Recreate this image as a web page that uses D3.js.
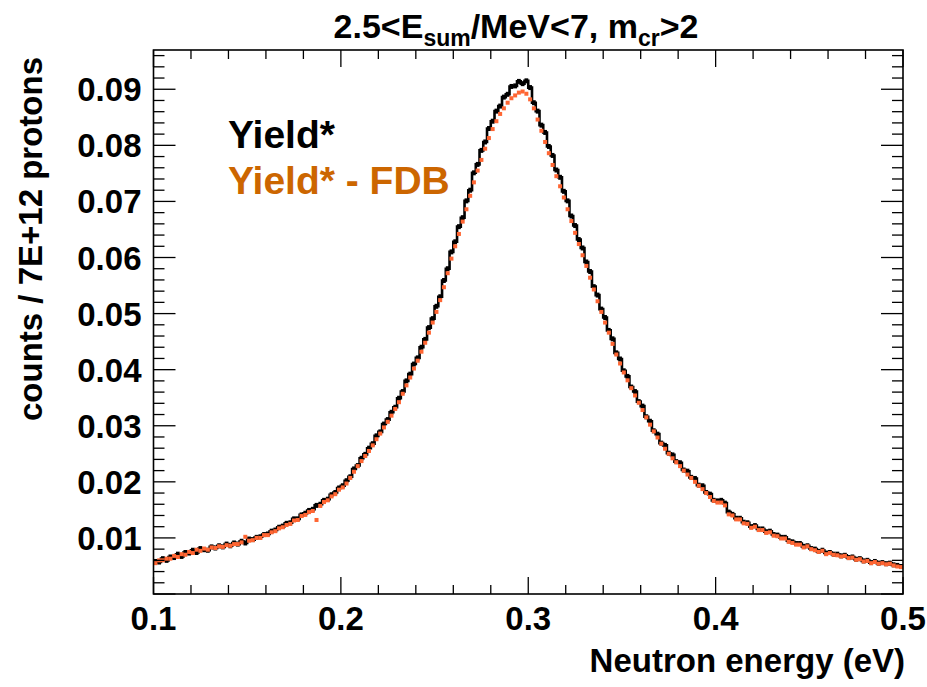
<!DOCTYPE html>
<html>
<head>
<meta charset="utf-8">
<script src="https://cdn.jsdelivr.net/npm/d3@7"></script>
<style>
  body { margin: 0; background: #fff; }
  text { font-family: "Liberation Sans", Arial, Helvetica, sans-serif; font-weight: bold; }
</style>
</head>
<body>
<div id="my_dataviz"></div>
<script>
// histogram binning (neutron energy, eV)
var energyMin = 0.1, energyMax = 0.5, binWidth = 0.002

// Yield* (black), one value per bin, 0.101 ... 0.499
var yieldStar = [
  0.0058, 0.0057, 0.0063, 0.0060, 0.0066, 0.0065, 0.0071, 0.0067, 0.0074, 0.0073,
  0.0078, 0.0074, 0.0081, 0.0079, 0.0078, 0.0084, 0.0082, 0.0086, 0.0084, 0.0089,
  0.0086, 0.0091, 0.0089, 0.0094, 0.0091, 0.0098, 0.0097, 0.0101, 0.0102, 0.0106,
  0.0107, 0.0112, 0.0114, 0.0119, 0.0121, 0.0126, 0.0127, 0.0134, 0.0134, 0.0141,
  0.0144, 0.0149, 0.0151, 0.0158, 0.0160, 0.0167, 0.0169, 0.0177, 0.0181, 0.0189,
  0.0193, 0.0202, 0.0209, 0.0223, 0.0229, 0.0242, 0.0249, 0.0260, 0.0268, 0.0282,
  0.0289, 0.0303, 0.0311, 0.0324, 0.0333, 0.0349, 0.0361, 0.0380, 0.0392, 0.0410,
  0.0421, 0.0440, 0.0454, 0.0475, 0.0491, 0.0513, 0.0530, 0.0559, 0.0580, 0.0610,
  0.0628, 0.0655, 0.0671, 0.0701, 0.0720, 0.0751, 0.0766, 0.0791, 0.0806, 0.0830,
  0.0843, 0.0861, 0.0870, 0.0886, 0.0891, 0.0905, 0.0906, 0.0914, 0.0910, 0.0915,
  0.0903, 0.0876, 0.0861, 0.0836, 0.0823, 0.0798, 0.0782, 0.0756, 0.0743, 0.0718,
  0.0701, 0.0674, 0.0657, 0.0632, 0.0617, 0.0592, 0.0575, 0.0548, 0.0533, 0.0508,
  0.0493, 0.0470, 0.0455, 0.0430, 0.0419, 0.0398, 0.0388, 0.0369, 0.0361, 0.0343,
  0.0335, 0.0316, 0.0308, 0.0291, 0.0285, 0.0269, 0.0265, 0.0251, 0.0248, 0.0236,
  0.0234, 0.0221, 0.0219, 0.0208, 0.0206, 0.0194, 0.0193, 0.0181, 0.0178, 0.0167,
  0.0166, 0.0167, 0.0162, 0.0146, 0.0142, 0.0135, 0.0135, 0.0128, 0.0127, 0.0120,
  0.0122, 0.0116, 0.0116, 0.0111, 0.0112, 0.0106, 0.0105, 0.0101, 0.0101, 0.0095,
  0.0093, 0.0090, 0.0090, 0.0085, 0.0086, 0.0081, 0.0080, 0.0076, 0.0078, 0.0073,
  0.0074, 0.0071, 0.0071, 0.0068, 0.0069, 0.0065, 0.0066, 0.0062, 0.0063, 0.0059,
  0.0060, 0.0056, 0.0058, 0.0055, 0.0056, 0.0054, 0.0055, 0.0052, 0.0051, 0.0049
]

// Yield* - FDB (orange)
var yieldFdb = [
  0.0055, 0.0060, 0.0060, 0.0063, 0.0063, 0.0068, 0.0066, 0.0071, 0.0070, 0.0075,
  0.0073, 0.0079, 0.0077, 0.0081, 0.0079, 0.0083, 0.0082, 0.0085, 0.0084, 0.0087,
  0.0086, 0.0089, 0.0089, 0.0092, 0.0102, 0.0095, 0.0096, 0.0100, 0.0100, 0.0105,
  0.0105, 0.0110, 0.0112, 0.0117, 0.0119, 0.0123, 0.0125, 0.0131, 0.0132, 0.0139,
  0.0141, 0.0146, 0.0148, 0.0132, 0.0157, 0.0164, 0.0167, 0.0174, 0.0178, 0.0186,
  0.0190, 0.0197, 0.0207, 0.0218, 0.0228, 0.0237, 0.0246, 0.0255, 0.0265, 0.0276,
  0.0286, 0.0297, 0.0307, 0.0318, 0.0330, 0.0342, 0.0357, 0.0372, 0.0386, 0.0402,
  0.0416, 0.0432, 0.0448, 0.0466, 0.0484, 0.0503, 0.0524, 0.0547, 0.0572, 0.0598,
  0.0620, 0.0642, 0.0664, 0.0686, 0.0710, 0.0734, 0.0755, 0.0774, 0.0794, 0.0813,
  0.0829, 0.0843, 0.0856, 0.0866, 0.0876, 0.0884, 0.0889, 0.0894, 0.0896, 0.0892,
  0.0882, 0.0866, 0.0846, 0.0826, 0.0806, 0.0786, 0.0765, 0.0745, 0.0727, 0.0707,
  0.0686, 0.0665, 0.0644, 0.0624, 0.0604, 0.0585, 0.0564, 0.0543, 0.0522, 0.0503,
  0.0484, 0.0466, 0.0446, 0.0427, 0.0411, 0.0395, 0.0381, 0.0367, 0.0354, 0.0341,
  0.0328, 0.0315, 0.0302, 0.0290, 0.0279, 0.0268, 0.0259, 0.0250, 0.0242, 0.0235,
  0.0228, 0.0220, 0.0213, 0.0207, 0.0200, 0.0193, 0.0187, 0.0180, 0.0173, 0.0166,
  0.0163, 0.0163, 0.0158, 0.0142, 0.0140, 0.0133, 0.0133, 0.0126, 0.0125, 0.0118,
  0.0120, 0.0114, 0.0114, 0.0109, 0.0110, 0.0104, 0.0103, 0.0099, 0.0099, 0.0093,
  0.0091, 0.0088, 0.0088, 0.0083, 0.0085, 0.0080, 0.0078, 0.0075, 0.0077, 0.0071,
  0.0073, 0.0070, 0.0069, 0.0067, 0.0068, 0.0064, 0.0065, 0.0061, 0.0062, 0.0058,
  0.0059, 0.0055, 0.0057, 0.0054, 0.0055, 0.0053, 0.0054, 0.0051, 0.0049, 0.0048
]

var xTicks = [0.1, 0.2, 0.3, 0.4, 0.5]
var yTicks = [0.01, 0.02, 0.03, 0.04, 0.05, 0.06, 0.07, 0.08, 0.09]
var yMax = 0.097

var legendLabels = ["Yield*", "Yield* - FDB"]
var legendColors = ["#000000", "#cc6600"]

// set the dimensions and margins of the graph
var W = 927, H = 687
var margin = {top: 50, right: 24, bottom: 93, left: 153.5},
    width = W - margin.left - margin.right,
    height = H - margin.top - margin.bottom

var svg = d3.select("#my_dataviz")
  .append("svg")
  .attr("width", W)
  .attr("height", H)

var g = svg.append("g")
  .attr("transform", "translate(" + margin.left + "," + margin.top + ")")

var x = d3.scaleLinear().domain([energyMin, energyMax]).range([0, width])
var y = d3.scaleLinear().domain([0, yMax]).range([height, 0])

// bins
var binLo = yieldStar.map(function(d, i) { return energyMin + i * binWidth })
var binPx = x(energyMin + binWidth) - x(energyMin)

// Yield* as a thick step histogram
var stepPts = []
yieldStar.forEach(function(v, i) {
  stepPts.push([binLo[i], v])
  stepPts.push([binLo[i] + binWidth, v])
})
g.append("path")
  .datum(stepPts)
  .attr("fill", "none")
  .attr("stroke", "#000")
  .attr("stroke-width", 2.6)
  .attr("d", d3.line().x(function(d) { return x(d[0]) }).y(function(d) { return y(d[1]) }))

g.selectAll("rect.blk")
  .data(yieldStar)
  .enter()
  .append("rect")
  .attr("class", "blk")
  .attr("x", function(d, i) { return x(binLo[i]) })
  .attr("y", function(d) { return y(d) - 2.5 })
  .attr("width", binPx)
  .attr("height", 5)
  .attr("fill", "#000")

// Yield* - FDB as small orange markers
g.selectAll("rect.fdb")
  .data(yieldFdb)
  .enter()
  .append("rect")
  .attr("class", "fdb")
  .attr("x", function(d, i) { return x(binLo[i] + binWidth / 2) - 2 })
  .attr("y", function(d) { return y(d) - 2 })
  .attr("width", 4)
  .attr("height", 4)
  .attr("fill", "#ff6633")

// ticks on all four sides, ROOT style
var xMinor = d3.range(0, 21).map(function(i) { return energyMin + i * 0.02 })
var yMinor = d3.range(0, 49).map(function(i) { return i * 0.002 })

var tickG = g.append("g").attr("stroke", "#000").attr("stroke-width", 1.3)
xMinor.forEach(function(t) {
  var major = xTicks.some(function(m) { return Math.abs(m - t) < 1e-9 })
  var len = major ? 17 : 9
  tickG.append("line").attr("x1", x(t)).attr("x2", x(t)).attr("y1", height).attr("y2", height - len)
  tickG.append("line").attr("x1", x(t)).attr("x2", x(t)).attr("y1", 0).attr("y2", len)
})
yMinor.forEach(function(t) {
  if (t > yMax) return
  var major = Math.abs(t / 0.01 - Math.round(t / 0.01)) < 1e-6
  var len = major ? 22 : 11
  tickG.append("line").attr("x1", 0).attr("x2", len).attr("y1", y(t)).attr("y2", y(t))
  tickG.append("line").attr("x1", width).attr("x2", width - len).attr("y1", y(t)).attr("y2", y(t))
})

// frame
g.append("rect")
  .attr("width", width)
  .attr("height", height)
  .attr("fill", "none")
  .attr("stroke", "#000")
  .attr("stroke-width", 1.6)

// tick labels
g.selectAll("text.xl")
  .data(xTicks)
  .enter()
  .append("text")
  .attr("x", function(d) { return x(d) })
  .attr("y", height + 36)
  .attr("text-anchor", "middle")
  .attr("font-size", 33)
  .text(function(d) { return d3.format(".1f")(d) })

g.selectAll("text.yl")
  .data(yTicks)
  .enter()
  .append("text")
  .attr("x", -12)
  .attr("y", function(d) { return y(d) + 12 })
  .attr("text-anchor", "end")
  .attr("font-size", 33)
  .text(function(d) { return d3.format(".2f")(d) })

// axis titles
svg.append("text")
  .attr("x", margin.left + width + 2)
  .attr("y", 672)
  .attr("text-anchor", "end")
  .attr("font-size", 33)
  .text("Neutron energy (eV)")

svg.append("text")
  .attr("transform", "translate(42,57) rotate(-90)")
  .attr("text-anchor", "end")
  .attr("font-size", 33)
  .text("counts / 7E+12 protons")

// title with subscripts
var title = svg.append("text")
  .attr("x", 516)
  .attr("y", 38)
  .attr("text-anchor", "middle")
  .attr("font-size", 34)
title.append("tspan").text("2.5<E")
title.append("tspan").attr("font-size", 23).attr("dy", 8).text("sum")
title.append("tspan").attr("dy", -8).text("/MeV<7, m")
title.append("tspan").attr("font-size", 23).attr("dy", 8).text("cr")
title.append("tspan").attr("dy", -8).text(">2")

// legend
svg.selectAll("text.leg")
  .data(legendLabels)
  .enter()
  .append("text")
  .attr("x", 228)
  .attr("y", function(d, i) { return 148 + i * 46 })
  .attr("font-size", 39)
  .attr("fill", function(d, i) { return legendColors[i] })
  .text(function(d) { return d })
</script>
</body>
</html>
